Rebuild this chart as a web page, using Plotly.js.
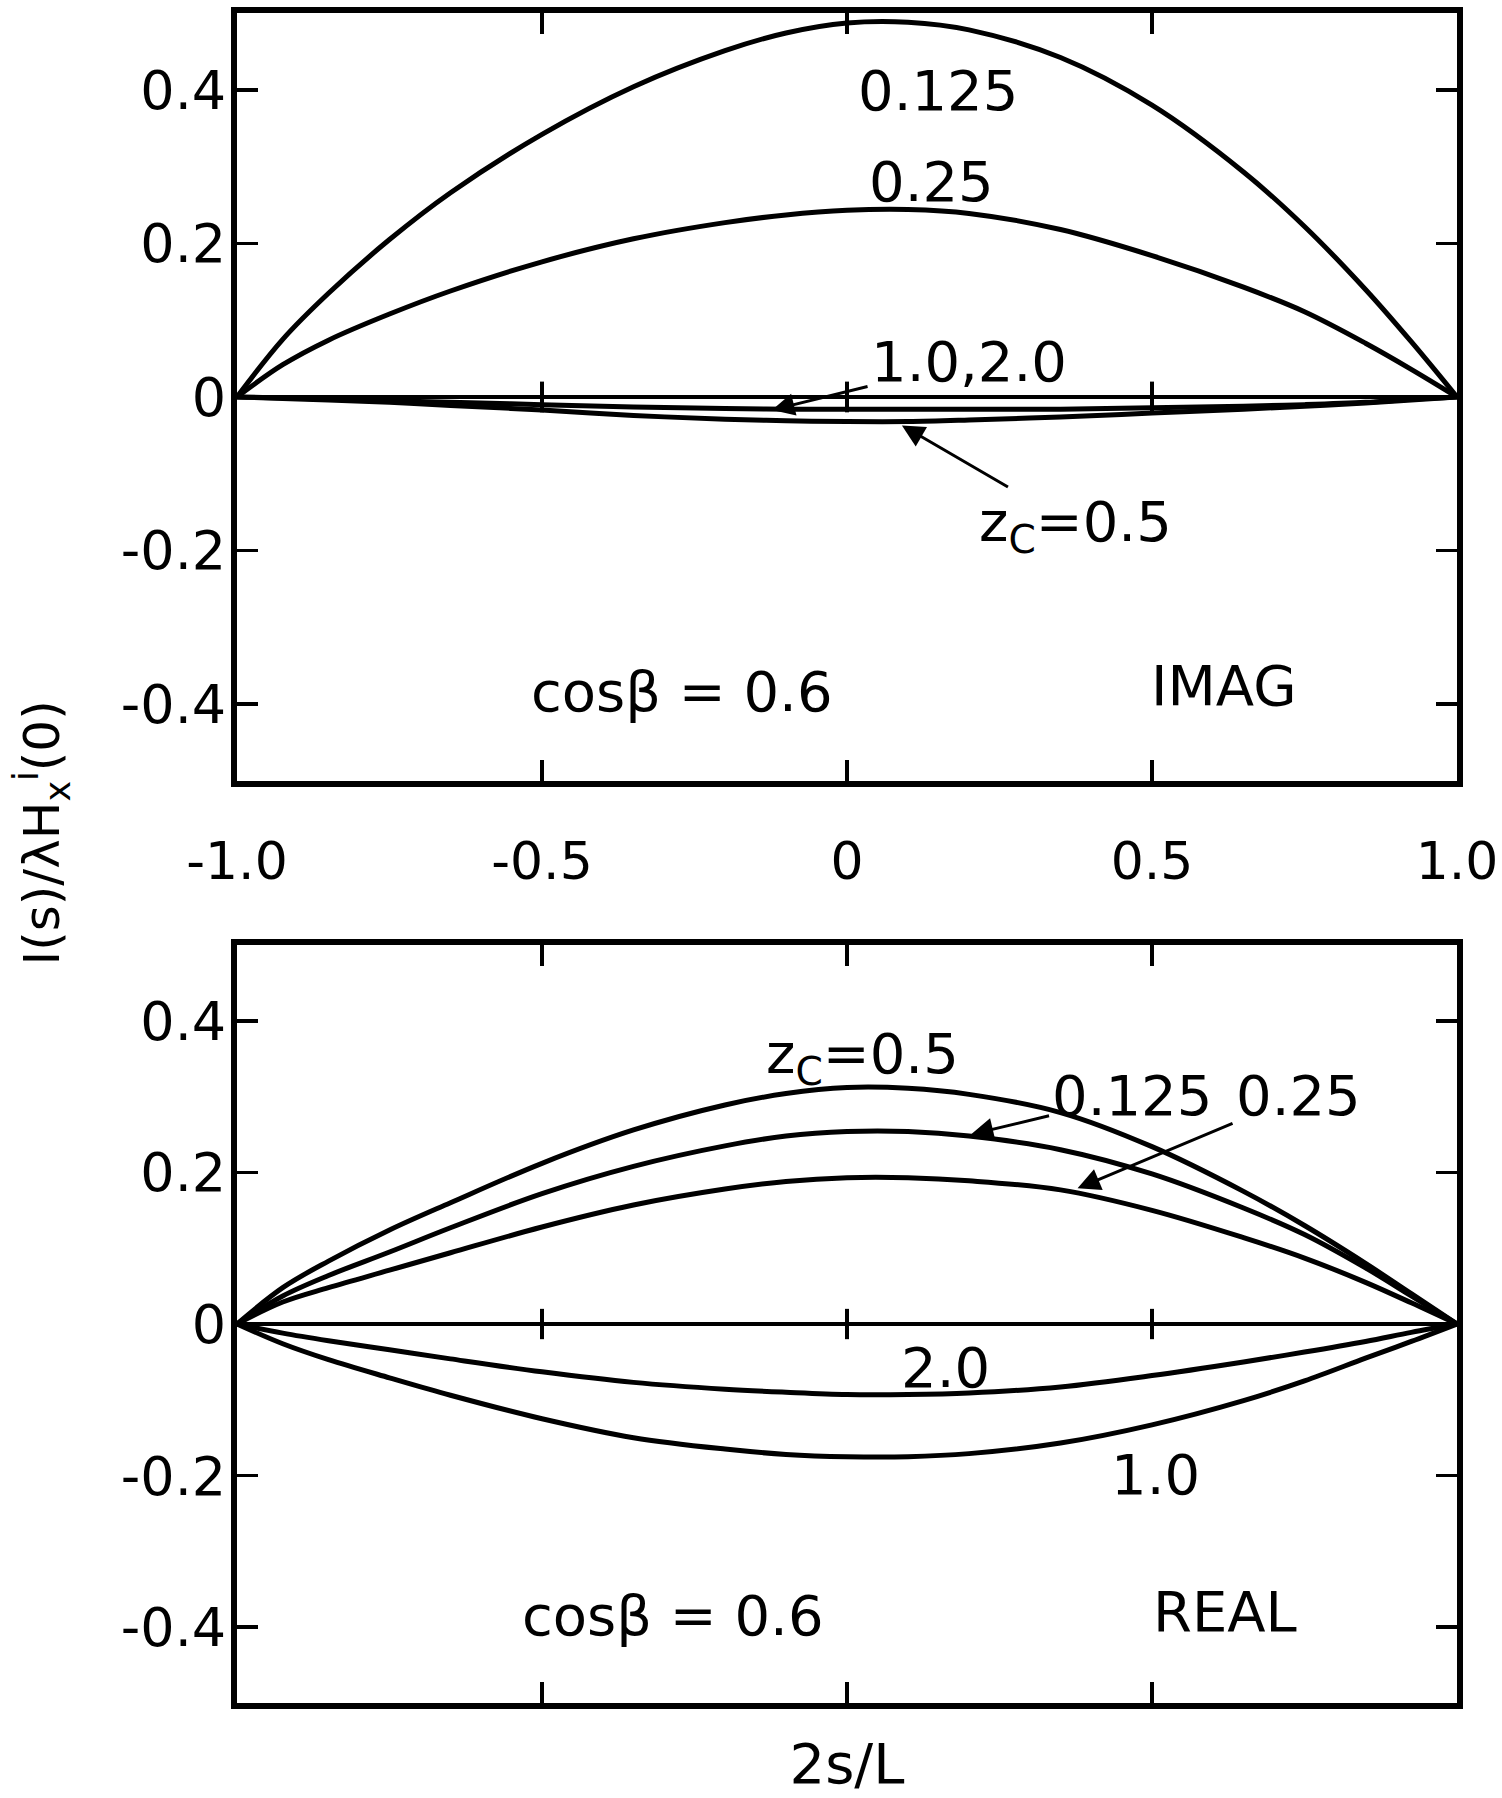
<!DOCTYPE html>
<html>
<head>
<meta charset="utf-8">
<script src="https://cdn.plot.ly/plotly-3.0.1.min.js"></script>
<style>html,body{margin:0;padding:0;background:#fff;}#chart{width:1502px;height:1798px;}</style>
</head>
<body>
<div id="chart"></div>
<script>
// ---- data ----
const xs = [-1, -0.925, -0.85, -0.75, -0.65, -0.5, -0.35, -0.2, -0.1, 0, 0.1, 0.2, 0.35, 0.5, 0.65, 0.75, 0.85, 0.925, 1];

// upper panel: IMAG part, cos(beta) = 0.6
const imag0125 = [0, 0.075, 0.135, 0.205, 0.266, 0.342, 0.404, 0.451, 0.474, 0.487, 0.488, 0.478, 0.442, 0.380, 0.293, 0.222, 0.140, 0.072, 0];
const imag025  = [0, 0.042, 0.074, 0.108, 0.138, 0.176, 0.206, 0.227, 0.237, 0.243, 0.244, 0.239, 0.218, 0.184, 0.143, 0.111, 0.070, 0.036, 0];
const imag05   = [0, -0.002, -0.004, -0.007, -0.011, -0.017, -0.024, -0.029, -0.031, -0.032, -0.032, -0.030, -0.026, -0.021, -0.016, -0.012, -0.008, -0.004, 0];
const imag1020 = [0, -0.001, -0.003, -0.005, -0.007, -0.010, -0.013, -0.015, -0.016, -0.016, -0.016, -0.016, -0.016, -0.014, -0.012, -0.010, -0.007, -0.003, 0];

// lower panel: REAL part, cos(beta) = 0.6
const real05   = [0, 0.048, 0.083, 0.124, 0.160, 0.212, 0.256, 0.289, 0.304, 0.312, 0.311, 0.303, 0.279, 0.234, 0.175, 0.130, 0.080, 0.040, 0];
const real0125 = [0, 0.037, 0.064, 0.095, 0.127, 0.172, 0.208, 0.235, 0.248, 0.254, 0.254, 0.248, 0.230, 0.198, 0.153, 0.118, 0.074, 0.037, 0];
const real025  = [0, 0.029, 0.048, 0.071, 0.094, 0.128, 0.157, 0.178, 0.188, 0.193, 0.193, 0.189, 0.177, 0.150, 0.114, 0.087, 0.055, 0.028, 0];
const real20   = [0, -0.012, -0.022, -0.034, -0.046, -0.063, -0.077, -0.086, -0.090, -0.093, -0.093, -0.091, -0.083, -0.068, -0.050, -0.037, -0.023, -0.011, 0];
const real10   = [0, -0.026, -0.047, -0.071, -0.094, -0.125, -0.150, -0.165, -0.172, -0.175, -0.175, -0.171, -0.157, -0.133, -0.101, -0.075, -0.045, -0.023, 0];

const xTickVals = [-1, -0.5, 0, 0.5, 1];
const xTickText = ["-1.0", "-0.5", "0", "0.5", "1.0"];
const yTickVals = [-0.4, -0.2, 0, 0.2, 0.4];
const yTickText = ["-0.4", "-0.2", "0", "0.2", "0.4"];
const zeroTickX = [-0.5, 0, 0.5];

// ---- styling ----
const FONT = "DejaVu Sans, Liberation Sans, sans-serif";
const curveLine = {color: "#000", width: 5, shape: "spline", smoothing: 1};

function curve(y, xa, ya, name) {
  return {x: xs, y: y, xaxis: xa, yaxis: ya, type: "scatter", mode: "lines",
          line: curveLine, name: name, hoverinfo: "skip", showlegend: false};
}
// short tick marks crossing the zero line (drawn as symmetric error bars)
function zeroTicks(xa, ya) {
  return {x: zeroTickX, y: zeroTickX.map(() => 0), xaxis: xa, yaxis: ya, type: "scatter",
          mode: "markers", hoverinfo: "skip", showlegend: false,
          marker: {size: 1, color: "rgba(0,0,0,0)"},
          error_y: {type: "constant", value: 0.02, width: 0, thickness: 4, color: "#000"}};
}

const traces = [
  curve(imag0125, "x", "y", "0.125"),
  curve(imag025, "x", "y", "0.25"),
  curve(imag05, "x", "y", "0.5"),
  curve(imag1020, "x", "y", "1.0, 2.0"),
  zeroTicks("x", "y"),
  curve(real05, "x2", "y2", "0.5"),
  curve(real0125, "x2", "y2", "0.125"),
  curve(real025, "x2", "y2", "0.25"),
  curve(real20, "x2", "y2", "2.0"),
  curve(real10, "x2", "y2", "1.0"),
  zeroTicks("x2", "y2")
];

const axisCommon = {
  showline: true, linecolor: "#000", linewidth: 6, mirror: "allticks",
  ticks: "inside", ticklen: 21, tickwidth: 3.5, tickcolor: "#000",
  showgrid: false, zeroline: false, fixedrange: true,
  tickfont: {family: FONT, size: 54, color: "#000"}
};

function label(text, x, y, xa, ya) {
  return {text: text, x: x, y: y, xref: xa, yref: ya, showarrow: false,
          xanchor: "center", yanchor: "middle",
          font: {family: FONT, size: 56, color: "#000"}};
}
// label whose arrow runs from the text box to the tip (tipX, tipY)
function arrowLabel(text, textX, textY, tipX, tipY, xa, ya) {
  return {text: text, x: tipX, y: tipY, ax: textX, ay: textY, xref: xa, yref: ya,
          axref: xa, ayref: ya, showarrow: true, arrowhead: 2, arrowsize: 1.5,
          arrowwidth: 3, arrowcolor: "#000", standoff: 0, startstandoff: 2,
          font: {family: FONT, size: 56, color: "#000"}};
}

const layout = {
  width: 1502, height: 1798,
  margin: {l: 237, r: 45, t: 13, b: 95},
  paper_bgcolor: "#fff", plot_bgcolor: "rgba(0,0,0,0)",
  showlegend: false,
  xaxis: Object.assign({}, axisCommon, {
    domain: [0, 1], range: [-1, 1], anchor: "y",
    tickvals: xTickVals, ticktext: xTickText, ticklabelstandoff: 30,
    tickfont: {family: FONT, size: 52, color: "#000"}
  }),
  yaxis: Object.assign({}, axisCommon, {
    domain: [0.5456, 1], range: [-0.5, 0.5], anchor: "x",
    tickvals: yTickVals, ticktext: yTickText, ticklabelstandoff: -6,
    zeroline: true, zerolinecolor: "#000", zerolinewidth: 3.5
  }),
  xaxis2: Object.assign({}, axisCommon, {
    domain: [0, 1], range: [-1, 1], anchor: "y2",
    tickvals: xTickVals, showticklabels: false,
    title: {text: "2s/L", font: {family: FONT, size: 56, color: "#000"}, standoff: 38}
  }),
  yaxis2: Object.assign({}, axisCommon, {
    domain: [0, 0.4485], range: [-0.5, 0.5], anchor: "x2",
    tickvals: yTickVals, ticktext: yTickText, ticklabelstandoff: -6,
    zeroline: true, zerolinecolor: "#000", zerolinewidth: 3.5
  }),
  annotations: [
    // upper panel (IMAG)
    label("0.125", 0.149, 0.399, "x", "y"),
    label("0.25", 0.139, 0.281, "x", "y"),
    arrowLabel("1.0,2.0", 0.200, 0.046, -0.123, -0.017, "x", "y"),
    arrowLabel("z<sub>C</sub>=0.5", 0.374, -0.168, 0.090, -0.037, "x", "y"),
    label("cos\u03B2 = 0.6", -0.270, -0.384, "x", "y"),
    label("IMAG", 0.618, -0.376, "x", "y"),
    // lower panel (REAL)
    label("z<sub>C</sub>=0.5", 0.026, 0.351, "x2", "y2"),
    arrowLabel("0.125", 0.468, 0.301, 0.203, 0.250, "x2", "y2"),
    arrowLabel("0.25", 0.740, 0.301, 0.378, 0.179, "x2", "y2"),
    label("2.0", 0.162, -0.057, "x2", "y2"),
    label("1.0", 0.506, -0.199, "x2", "y2"),
    label("cos\u03B2 = 0.6", -0.286, -0.384, "x2", "y2"),
    label("REAL", 0.620, -0.379, "x2", "y2"),
    // shared y-axis title
    {text: "I(s)/\u03BBH<sub>x</sub><sup>i</sup>(0)", xref: "paper", yref: "paper",
     x: -0.160, y: 0.515, xanchor: "center", yanchor: "middle", textangle: -90,
     showarrow: false, font: {family: FONT, size: 50, color: "#000"}}
  ]
};

Plotly.newPlot("chart", traces, layout, {staticPlot: true, displayModeBar: false});
</script>
</body>
</html>
